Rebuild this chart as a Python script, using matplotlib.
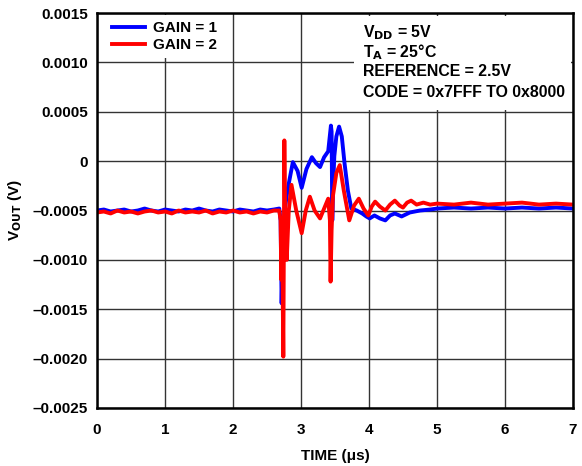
import matplotlib
matplotlib.use("Agg")
import matplotlib.pyplot as plt
from matplotlib.patches import Rectangle

plt.rcParams['font.family'] = ['Liberation Sans', 'DejaVu Sans']
plt.rcParams['font.weight'] = 'bold'

# time in us, output in V
blue_t = [0.00, 0.10, 0.20, 0.30, 0.40, 0.50, 0.60, 0.70, 0.80, 0.90,
          1.00, 1.10, 1.20, 1.30, 1.40, 1.50, 1.60, 1.70, 1.80, 1.90,
          2.00, 2.10, 2.20, 2.30, 2.40, 2.50, 2.60, 2.68, 2.70, 2.715,
          2.73, 2.76, 2.80, 2.88, 2.95, 3.01, 3.08, 3.16, 3.22, 3.28,
          3.34, 3.40, 3.44, 3.45, 3.46, 3.47, 3.49, 3.52, 3.56, 3.60,
          3.64, 3.69, 3.74, 3.82, 3.90, 3.96, 4.01, 4.08, 4.16, 4.24,
          4.31, 4.38, 4.48, 4.60, 4.75, 4.90, 5.00, 5.25, 5.50, 5.75,
          6.00, 6.25, 6.50, 6.75, 7.00]
blue_v = [-0.00050, -0.00049, -0.00051, -0.00050, -0.00049, -0.00051, -0.00050, -0.00048, -0.00050, -0.00051,
          -0.00049, -0.00050, -0.00051, -0.00049, -0.00050, -0.00048, -0.00050, -0.00051, -0.00049, -0.00050,
          -0.00051, -0.00049, -0.00050, -0.00051, -0.00049, -0.00050, -0.00049, -0.00048, -0.00060, -0.00144,
          -0.00100, -0.00050, -0.00030, -0.00001, -0.00010, -0.00027, -0.00008, 0.00004, -0.00002, -0.00006,
          0.00004, 0.00010, 0.00036, 0.00030, -0.00060, -0.00030, 0.00005, 0.00025, 0.00035, 0.00025,
          -0.00002, -0.00030, -0.00048, -0.00050, -0.00053, -0.00056, -0.00058, -0.00055, -0.00058, -0.00060,
          -0.00055, -0.00053, -0.00056, -0.00052, -0.00050, -0.00049, -0.00048, -0.00047, -0.00048, -0.00047,
          -0.00048, -0.00047, -0.00048, -0.00047, -0.00048]

red_t = [0.00, 0.10, 0.20, 0.30, 0.40, 0.50, 0.60, 0.70, 0.80, 0.90,
         1.00, 1.10, 1.20, 1.30, 1.40, 1.50, 1.60, 1.70, 1.80, 1.90,
         2.00, 2.10, 2.20, 2.30, 2.40, 2.50, 2.60, 2.68, 2.70, 2.71,
         2.72, 2.73, 2.74, 2.755, 2.77, 2.79, 2.82, 2.86, 2.93, 3.01,
         3.07, 3.13, 3.20, 3.28, 3.34, 3.40, 3.425, 3.435, 3.45, 3.47,
         3.52, 3.57, 3.63, 3.71, 3.78, 3.85, 3.92, 3.99, 4.04, 4.09,
         4.16, 4.24, 4.31, 4.38, 4.45, 4.50, 4.56, 4.62, 4.70, 4.80,
         4.90, 5.00, 5.25, 5.50, 5.75, 6.00, 6.25, 6.50, 6.75, 7.00]
red_v = [-0.00052, -0.00051, -0.00053, -0.00050, -0.00052, -0.00051, -0.00053, -0.00051, -0.00050, -0.00052,
         -0.00051, -0.00053, -0.00050, -0.00052, -0.00051, -0.00052, -0.00050, -0.00053, -0.00051, -0.00052,
         -0.00050, -0.00052, -0.00051, -0.00053, -0.00051, -0.00052, -0.00050, -0.00050, -0.00060, -0.00120,
         -0.00090, -0.00130, -0.00198, 0.00021, -0.00080, -0.00100, -0.00050, -0.00024, -0.00050, -0.00073,
         -0.00050, -0.00036, -0.00050, -0.00058, -0.00048, -0.00038, -0.00060, -0.00122, -0.00070, -0.00035,
         -0.00012, -0.00004, -0.00030, -0.00060, -0.00045, -0.00038, -0.00048, -0.00055, -0.00046, -0.00041,
         -0.00046, -0.00050, -0.00044, -0.00040, -0.00045, -0.00047, -0.00042, -0.00040, -0.00044, -0.00042,
         -0.00044, -0.00043, -0.00044, -0.00042, -0.00044, -0.00043, -0.00042, -0.00044, -0.00043, -0.00044]

x_ticks = [0, 1, 2, 3, 4, 5, 6, 7]
y_ticks = [-0.0025, -0.0020, -0.0015, -0.0010, -0.0005, 0, 0.0005, 0.0010, 0.0015]
y_labels = ['\u20130.0025', '\u20130.0020', '\u20130.0015', '\u20130.0010', '\u20130.0005',
            '0', '0.0005', '0.0010', '0.0015']
notes = ['V$_{\\mathbf{DD}}$ = 5V', 'T$_{\\mathbf{A}}$ = 25\u00b0C',
         'REFERENCE = 2.5V', 'CODE = 0x7FFF TO 0x8000']

fig = plt.figure(figsize=(5.82, 4.66), dpi=100)
ax = fig.add_axes([0.1667, 0.1245, 0.8178, 0.8475])

ax.plot(blue_t, blue_v, color='#0000ff', lw=2.8, label='GAIN = 1', zorder=2)
ax.plot(red_t, red_v, color='#ff0000', lw=2.8, label='GAIN = 2', zorder=2.1)

ax.set_xlim(0, 7)
ax.set_ylim(-0.0025, 0.0015)
ax.set_xticks(x_ticks)
ax.set_xticklabels([str(t) for t in x_ticks])
ax.set_yticks(y_ticks)
ax.set_yticklabels(y_labels)
ax.tick_params(length=0, labelsize=11)
ax.tick_params(axis='x', pad=10.5)
ax.tick_params(axis='y', pad=6.5)
ax.grid(True, color='#333333', lw=1.0)
ax.set_axisbelow(True)
for s in ax.spines.values():
    s.set_linewidth(1.8)

ax.set_xlabel('TIME (\u03bcs)', fontsize=11, fontweight='bold', labelpad=9)
ax.set_ylabel('V$_{\\mathbf{OUT}}$ (V)', fontsize=11, fontweight='bold', labelpad=6)

ax.legend(loc='upper left', bbox_to_anchor=(0.019, 0.995), fontsize=11, frameon=True,
          fancybox=False, edgecolor='none', facecolor='white', framealpha=1,
          handlelength=2.15, handletextpad=0.5, borderaxespad=0, labelspacing=0.2)

# white box behind the conditions text
ax.add_patch(Rectangle((0.540, 0.754), 0.455, 0.238, transform=ax.transAxes,
                       facecolor='white', edgecolor='none', zorder=1))
for i, note in enumerate(notes):
    ax.text(0.559, [0.939, 0.889, 0.841, 0.787][i], note, transform=ax.transAxes,
            ha='left', va='baseline', fontsize=11.4, fontweight='bold', zorder=3)

fig.savefig('out.png', dpi=100)
